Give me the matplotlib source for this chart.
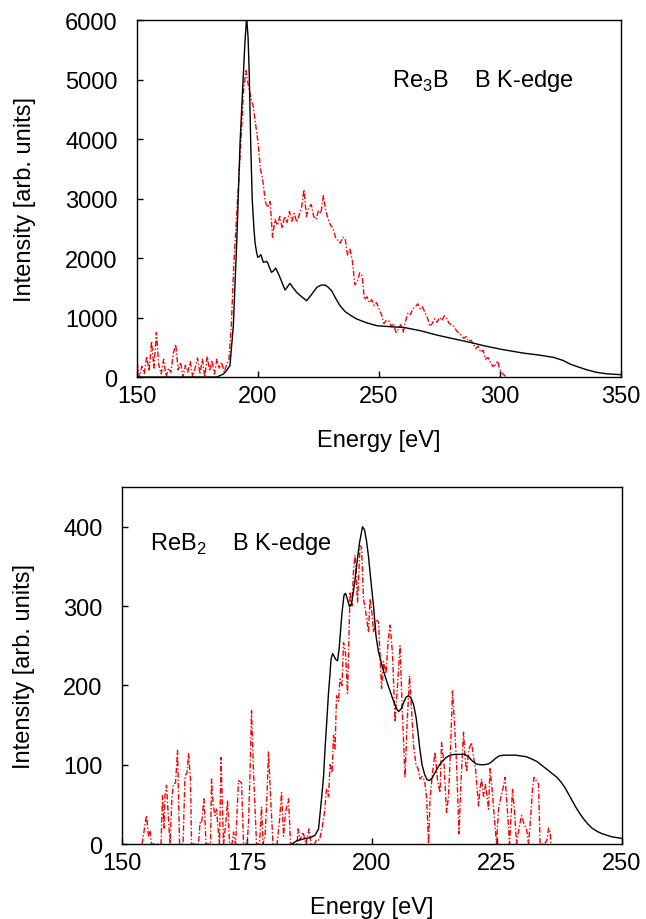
import matplotlib
matplotlib.use("Agg")
import matplotlib.pyplot as plt

plt.rcParams['font.family'] = ['Liberation Sans', 'DejaVu Sans']
plt.rcParams['mathtext.fontset'] = 'custom'
plt.rcParams['mathtext.rm'] = 'Liberation Sans'

# ---- Re3B, B K-edge (top) ----
# experiment (red), 1 eV steps from 150 eV
top_exp_x = list(range(150, 304))
top_exp_y = [250, 0, 180, 60, 350, 100, 600, 150, 750, 200,
             50, 300, 0, 150, 80, 400, 550, 120, 250, 0,
             200, 80, 260, 0, 150, 320, 50, 300, 0, 350,
             100, 280, 50, 300, 150, 250, 80, 200, 300, 900,
             1900, 2600, 3300, 4000, 4800, 5150, 4900, 4700, 4550, 4250,
             3950, 3500, 3300, 2950, 2850, 2950, 2350, 2650, 2550, 2700,
             2500, 2700, 2600, 2780, 2620, 2750, 2600, 2720, 2850, 3150,
             2700, 2850, 2900, 2700, 2650, 2800, 2750, 3050, 2800, 2650,
             2550, 2500, 2350, 2300, 2250, 2350, 2330, 2050, 2150, 1950,
             1550, 1600, 1750, 1700, 1300, 1350, 1250, 1300, 1200, 1250,
             1150, 1050, 900, 950, 950, 850, 900, 750, 800, 880,
             750, 950, 1080, 1050, 1150, 1180, 1230, 1150, 1180, 1080,
             1000, 850, 900, 980, 920, 1000, 950, 1030, 980, 900,
             880, 850, 780, 740, 700, 650, 680, 600, 620, 550,
             480, 520, 420, 450, 300, 330, 250, 180, 200, 270,
             120, 60, 20, 0]

# calculation (black)
top_calc_x = [150, 183, 185.7, 187, 188.4, 189.8, 191.2, 192.6, 193.6, 194.6,
              195.3, 195.9, 196.4, 197.0, 197.6, 198.3, 198.8, 199.4, 199.9, 200.6,
              201.2, 201.7, 202.2, 202.9, 203.6, 204.2, 204.7, 205.6, 206.5, 207.3,
              208.8, 210, 211.2, 212.2, 213.2, 214.5, 216, 218, 220.1, 222,
              224.3, 226, 227.7, 229.0, 230.4, 232.0, 233.9, 236, 238.5, 240.8,
              245, 249, 255, 260, 267, 273.8, 280, 287.6, 294, 301.4,
              310, 316, 322, 326, 328.9, 333, 336, 339.9, 344, 350]
top_calc_y = [0, 0, 50, 110, 190, 862, 2263, 3950, 4800, 5630,
              6050, 5700, 5064, 3900, 3000, 2500, 2250, 2100, 2011, 2030,
              2056, 1990, 1927, 1935, 1944, 1900, 1843, 1759, 1790, 1832,
              1703, 1580, 1462, 1520, 1574, 1500, 1423, 1350, 1283, 1380,
              1507, 1545, 1546, 1510, 1451, 1330, 1199, 1100, 1030, 975,
              910, 863, 845, 835, 780, 706, 650, 583, 520, 459,
              400, 370, 331, 280, 218, 160, 120, 79, 55, 39]

# ---- ReB2, B K-edge (bottom) ----
bot_exp_x = [154.0, 154.5, 154.9, 155.3, 155.6, 155.9, 157.8, 158.1, 158.4, 158.6,
             158.9, 159.3, 159.6, 160.0, 160.3, 160.7, 161.1, 161.5, 162.2, 162.6,
             163.0, 163.3, 163.7, 163.9, 165.3, 165.6, 165.9, 166.4, 166.8, 167.7,
             167.9, 168.2, 168.6, 168.9, 169.2, 169.5, 169.8, 170.1, 170.3, 170.8,
             171.1, 171.5, 172.0, 172.3, 172.7, 173.3, 173.9, 174.3, 175.0, 175.3,
             175.6, 175.9, 176.3, 176.9, 177.5, 177.9, 178.2, 178.6, 178.9, 179.3,
             179.7, 180.2, 181.0, 181.5, 181.9, 182.3, 182.7, 183.3, 183.7, 185.0,
             185.2, 185.6, 186.2, 186.8, 187.4, 187.8, 188.5, 188.9, 189.5, 190.0,
             190.5, 190.9, 191.3, 191.6, 192.0, 192.3, 192.6, 192.9, 193.3, 193.6,
             194.0, 194.3, 194.7, 195.1, 195.6, 196.0, 196.3, 196.6, 197.1, 197.6,
             197.9, 198.3, 198.8, 199.3, 199.6, 200.0, 200.3, 200.6, 201.0, 201.3,
             201.9, 202.3, 202.8, 203.2, 203.6, 204.1, 204.6, 205.1, 205.6, 206.1,
             206.6, 207.0, 207.5, 207.9, 208.3, 208.8, 209.2, 209.6, 210.0, 210.5,
             210.9, 211.3, 211.6, 212.1, 212.6, 213.1, 213.6, 213.9, 214.4, 214.9,
             215.3, 215.7, 216.1, 216.5, 216.9, 217.4, 217.8, 218.3, 218.6, 218.9,
             219.4, 219.9, 220.3, 220.7, 221.3, 221.6, 221.9, 222.3, 222.7, 223.3,
             223.6, 224.0, 224.5, 224.9, 225.3, 225.8, 226.2, 226.6, 227.1, 227.5,
             228.1, 228.5, 228.9, 229.4, 229.9, 230.4, 230.9, 231.3, 231.8, 232.1,
             232.4, 232.8, 233.3, 233.6, 234.5, 235.0, 235.3, 235.6, 235.8]
bot_exp_y = [0, 20, 36, 10, 17, 0, 0, 61, 20, 62,
             74, 30, 0, 60, 76, 77, 118, 0, 0, 86,
             90, 114, 80, 0, 0, 27, 26, 57, 0, 0,
             82, 50, 36, 44, 20, 0, 109, 40, 0, 30,
             55, 0, 0, 15, 0, 80, 77, 0, 0, 27,
             90, 168, 90, 0, 0, 47, 0, 10, 47, 116,
             60, 0, 0, 30, 65, 10, 40, 57, 0, 0,
             19, 5, 15, 0, 19, 0, 0, 6, 5, 20,
             40, 70, 60, 100, 90, 137, 120, 187, 180, 208,
             200, 254, 240, 190, 318, 300, 345, 364, 305, 376,
             374, 309, 290, 267, 309, 290, 267, 276, 282, 280,
             196, 230, 215, 255, 276, 240, 154, 200, 250, 160,
             84, 150, 212, 170, 124, 100, 95, 82, 85, 80,
             60, 0, 57, 90, 116, 80, 65, 128, 100, 40,
             60, 120, 193, 150, 103, 13, 80, 141, 110, 91,
             120, 128, 110, 95, 48, 70, 82, 60, 75, 44,
             95, 70, 30, 0, 44, 60, 70, 84, 40, 0,
             69, 40, 0, 20, 36, 25, 19, 0, 40, 70,
             84, 80, 76, 0, 0, 5, 20, 15, 0]

bot_calc_x = [184.0, 184.9, 186.0, 187.6, 188.6, 189.3, 189.9, 190.3, 190.6, 191.0,
              191.3, 191.6, 191.8, 192.1, 192.4, 192.7, 193.1, 193.4, 193.7, 194.0,
              194.4, 194.7, 195.1, 195.5, 195.9, 196.5, 197.0, 197.5, 198.1, 198.5,
              198.9, 199.3, 199.8, 200.3, 200.8, 201.3, 201.8, 202.4, 203.0, 203.6,
              204.2, 204.8, 205.3, 205.8, 206.3, 206.8, 207.3, 207.8, 208.3, 208.8,
              209.2, 209.6, 210.0, 210.5, 211.0, 211.5, 212.0, 212.6, 213.3, 214.0,
              214.8, 215.6, 216.5, 217.5, 218.5, 219.3, 220.0, 220.8, 221.6, 222.5,
              223.3, 224.0, 224.7, 225.4, 226.3, 227.5, 228.7, 229.8, 230.9, 232.0,
              233.0, 234.0, 235.0, 236.0, 237.0, 237.8, 238.6, 239.3, 240.0, 240.8,
              241.6, 242.4, 243.2, 244.0, 245.0, 246.0, 247.0, 248.0, 249.0, 250.0]
bot_calc_y = [0, 4, 6, 8, 11, 19, 57, 85, 120, 160,
              191, 215, 233, 240, 237, 233, 231, 245, 268, 292,
              314, 316, 308, 299, 303, 328, 355, 380, 400, 396,
              382, 362, 330, 300, 262, 242, 230, 216, 204, 193,
              182, 172, 167, 170, 178, 185, 187, 184, 176, 160,
              140, 118, 100, 88, 81, 80, 83, 90, 98, 104,
              109, 112, 113, 113, 113, 110, 105, 101, 100, 100,
              101, 104, 108, 111, 112, 112, 112, 111, 110, 107,
              104, 99, 94, 89, 84, 78, 71, 63, 55, 46,
              38, 31, 25, 20, 16, 13, 11, 9, 8, 7]

fig = plt.figure(figsize=(6.46, 9.2), dpi=100)
ax1 = fig.add_axes([0.2121, 0.5891, 0.7492, 0.3880])
ax2 = fig.add_axes([0.1889, 0.0815, 0.7740, 0.3880])

red_ls = (0, (4, 1.5, 1, 1.5))

ax1.plot(top_exp_x, top_exp_y, color='red', lw=1.0, ls=red_ls)
ax1.plot(top_calc_x, top_calc_y, color='black', lw=1.0)
ax1.set_xlim(150, 350)
ax1.set_ylim(0, 6000)
ax1.set_xticks([150, 200, 250, 300, 350])
ax1.set_yticks([0, 1000, 2000, 3000, 4000, 5000, 6000])
ax1.text(255.2, 4891, r'Re$_\mathregular{3}$B    B K-edge', fontsize=17,
         ha='left', va='baseline')

ax2.plot(bot_exp_x, bot_exp_y, color='red', lw=1.0, ls=red_ls)
ax2.plot(bot_calc_x, bot_calc_y, color='black', lw=1.0)
ax2.set_xlim(150, 250)
ax2.set_ylim(0, 450)
ax2.set_xticks([150, 175, 200, 225, 250])
ax2.set_yticks([0, 100, 200, 300, 400])
ax2.text(155.5, 372, r'ReB$_\mathregular{2}$    B K-edge', fontsize=17,
         ha='left', va='baseline')

for ax, ylx in ((ax1, -0.209), (ax2, -0.174)):
    ax.tick_params(direction='in', length=4, width=1, labelsize=17,
                   top=False, right=False, pad=6)
    ax.tick_params(axis='y', pad=14)
    for s in ax.spines.values():
        s.set_linewidth(1.0)
    ax.set_xlabel('Energy [eV]', fontsize=17)
    ax.set_ylabel('Intensity [arb. units]', fontsize=17)
    ax.yaxis.set_label_coords(ylx, 0.5)
    ax.xaxis.set_label_coords(0.5, -0.145)

fig.savefig('out.png', dpi=100)
